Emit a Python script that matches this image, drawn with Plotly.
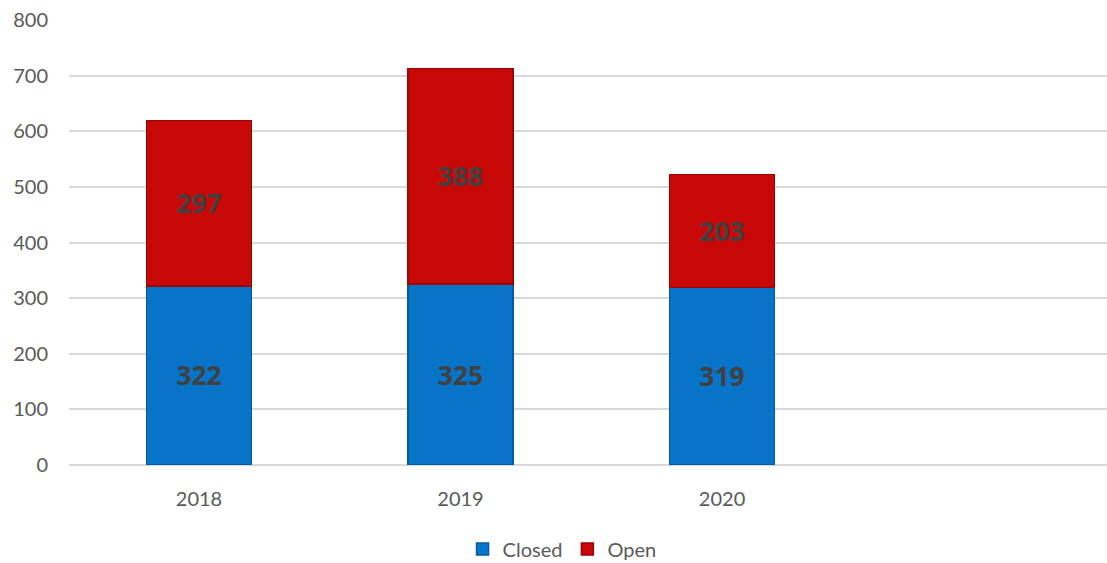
import plotly.graph_objects as go

years = ["2018", "2019", "2020"]
closed = [322, 325, 319]
open_ = [297, 388, 203]
y_ticks = [0, 100, 200, 300, 400, 500, 600, 700, 800]

xpos = list(range(len(years)))
FONT = "Lato, 'Open Sans', sans-serif"
LABEL_FONT = "'Open Sans', Lato, sans-serif"

fig = go.Figure()
fig.add_trace(go.Bar(
    name="Closed", x=xpos, y=closed, text=[str(v) for v in closed],
    texttemplate="<b>%{text}</b>",
    marker=dict(color="#0874C8", line=dict(color="#055A9E", width=1.5)),
    width=0.4, textposition="inside", insidetextanchor="middle",
    textfont=dict(family=LABEL_FONT, size=26.5, color="#404040"),
    textangle=0,
))
fig.add_trace(go.Bar(
    name="Open", x=xpos, y=open_, text=[str(v) for v in open_],
    texttemplate="<b>%{text}</b>",
    marker=dict(color="#C80707", line=dict(color="#9A0505", width=1.5)),
    width=0.4, textposition="inside", insidetextanchor="middle",
    textfont=dict(family=LABEL_FONT, size=26.5, color="#404040"),
    textangle=0,
))

fig.update_layout(
    barmode="stack",
    width=1107, height=563,
    margin=dict(l=69, r=0, t=20, b=98, autoexpand=False),
    paper_bgcolor="white", plot_bgcolor="white",
    font=dict(family=FONT, size=20, color="#595959"),
    showlegend=True,
    legend=dict(orientation="h", x=0.475, xanchor="center", yref="container",
                y=0.025, yanchor="middle",
                font=dict(size=20, color="#595959"), itemwidth=30, traceorder="normal"),
    xaxis=dict(range=[-0.497, 3.472], tickvals=xpos, ticktext=years,
               showgrid=False, zeroline=False, showline=False, automargin=False,
               tickfont=dict(size=20, color="#595959"), ticklabelstandoff=20),
    yaxis=dict(range=[0, 800], tickvals=y_ticks, showgrid=True, gridcolor="#D9D9D9",
               gridwidth=1.5, zeroline=True, zerolinecolor="#D9D9D9", zerolinewidth=1.5,
               automargin=False,
               tickfont=dict(size=20, color="#595959"), ticklabelstandoff=20),
)

fig.write_html("out.html")
